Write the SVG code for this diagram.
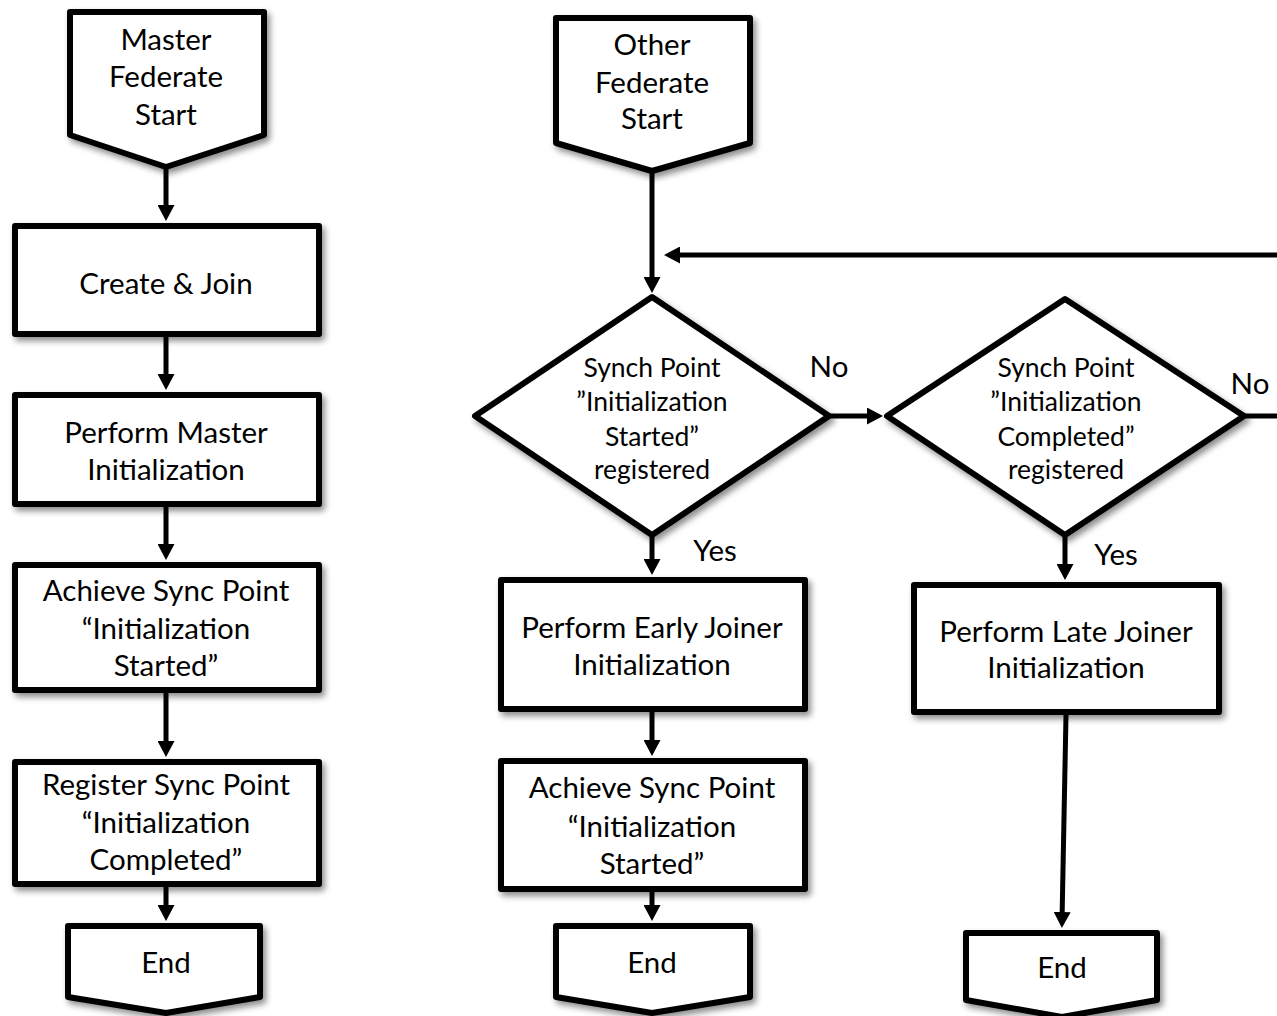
<svg xmlns="http://www.w3.org/2000/svg" width="1277" height="1016" viewBox="0 0 1277 1016">
  <defs>
    <filter id="shadow" x="-10%" y="-10%" width="130%" height="130%">
      <feDropShadow dx="3" dy="4" stdDeviation="3" flood-color="#000" flood-opacity="0.45"/>
    </filter>
    <marker id="arrow" markerUnits="userSpaceOnUse" markerWidth="17" markerHeight="17" refX="9" refY="8.5" orient="auto">
      <path d="M0,0 L16,8.5 L0,17 Z" fill="#000"/>
    </marker>
  </defs>
  <style>
    .shape { fill: #fff; stroke: #000; stroke-width: 6; stroke-linejoin: round; filter: url(#shadow); }
    .edge { fill: none; stroke: #000; stroke-width: 5; }
    .arr { marker-end: url(#arrow); }
    text { font-family: Lato, "Liberation Sans", sans-serif; font-size: 29.5px; fill: #000; text-anchor: middle; }
    .small { font-size: 26.5px; }
  </style>

  <rect width="1277" height="1016" fill="#fff"/>

  <!-- connectors -->
  <g id="connectors">
    <line class="edge arr" x1="166" y1="168" x2="166" y2="214"/>
    <line class="edge arr" x1="166" y1="337" x2="166" y2="383"/>
    <line class="edge arr" x1="166" y1="507" x2="166" y2="553"/>
    <line class="edge arr" x1="166" y1="693" x2="166" y2="750"/>
    <line class="edge arr" x1="166" y1="887" x2="166" y2="914"/>

    <line class="edge arr" x1="652" y1="171" x2="652" y2="286"/>
    <line class="edge arr" x1="1277" y1="255" x2="671" y2="255"/>
    <line class="edge arr" x1="829" y1="416" x2="876" y2="416"/>
    <line class="edge arr" x1="652" y1="535" x2="652" y2="568"/>
    <line class="edge arr" x1="652" y1="712" x2="652" y2="749"/>
    <line class="edge arr" x1="652" y1="892" x2="652" y2="914"/>

    <line class="edge" x1="1244" y1="416" x2="1277" y2="416"/>
    <line class="edge arr" x1="1065" y1="535" x2="1065" y2="573"/>
    <line class="edge arr" x1="1066" y1="715" x2="1062" y2="921"/>
  </g>

  <!-- master federate column -->
  <g id="master-start">
    <path class="shape" d="M70,12 H264 V135 L166,167 L70,135 Z"/>
    <text x="166" y="50">Master</text>
    <text x="166" y="87">Federate</text>
    <text x="166" y="125">Start</text>
  </g>
  <g id="create-join">
    <rect class="shape" x="15" y="226" width="304" height="108"/>
    <text x="166" y="294">Create &amp; Join</text>
  </g>
  <g id="master-init">
    <rect class="shape" x="15" y="395" width="304" height="109"/>
    <text x="166" y="443">Perform Master</text>
    <text x="166" y="480">Initialization</text>
  </g>
  <g id="master-achieve">
    <rect class="shape" x="15" y="565" width="304" height="125"/>
    <text x="166" y="601">Achieve Sync Point</text>
    <text x="166" y="639">“Initialization</text>
    <text x="166" y="676">Started”</text>
  </g>
  <g id="master-register">
    <rect class="shape" x="15" y="762" width="304" height="122"/>
    <text x="166" y="795">Register Sync Point</text>
    <text x="166" y="833">“Initialization</text>
    <text x="166" y="870">Completed”</text>
  </g>
  <g id="master-end">
    <path class="shape" d="M68,926 H260 V997 L166,1013 L68,997 Z"/>
    <text x="166" y="973">End</text>
  </g>

  <!-- other federate column -->
  <g id="other-start">
    <path class="shape" d="M556,18 H750 V143 L652,171 L556,143 Z"/>
    <text x="652" y="55">Other</text>
    <text x="652" y="93">Federate</text>
    <text x="652" y="129">Start</text>
  </g>
  <g id="check-started">
    <path class="shape" d="M475,416 L652,297 L829,416 L652,535 Z"/>
    <text class="small" x="652" y="377">Synch Point</text>
    <text class="small" x="652" y="411">”Initialization</text>
    <text class="small" x="652" y="446">Started”</text>
    <text class="small" x="652" y="479">registered</text>
  </g>
  <g id="early-init">
    <rect class="shape" x="501" y="580" width="304" height="129"/>
    <text x="652" y="638">Perform Early Joiner</text>
    <text x="652" y="675">Initialization</text>
  </g>
  <g id="other-achieve">
    <rect class="shape" x="501" y="761" width="304" height="128"/>
    <text x="652" y="798">Achieve Sync Point</text>
    <text x="652" y="837">“Initialization</text>
    <text x="652" y="874">Started”</text>
  </g>
  <g id="other-end">
    <path class="shape" d="M556,926 H750 V997 L652,1013 L556,997 Z"/>
    <text x="652" y="973">End</text>
  </g>

  <!-- late joiner branch -->
  <g id="check-completed">
    <path class="shape" d="M887,416 L1065,299 L1244,416 L1065,535 Z"/>
    <text class="small" x="1066" y="377">Synch Point</text>
    <text class="small" x="1066" y="411">”Initialization</text>
    <text class="small" x="1066" y="446">Completed”</text>
    <text class="small" x="1066" y="479">registered</text>
  </g>
  <g id="late-init">
    <rect class="shape" x="914" y="585" width="305" height="127"/>
    <text x="1066" y="642">Perform Late Joiner</text>
    <text x="1066" y="678">Initialization</text>
  </g>
  <g id="late-end">
    <path class="shape" d="M966,933 H1157 V1000 L1062,1017 L966,1000 Z"/>
    <text x="1062" y="978">End</text>
  </g>

  <!-- branch labels -->
  <g id="labels">
    <text x="829" y="377">No</text>
    <text x="1250" y="394">No</text>
    <text x="715" y="561">Yes</text>
    <text x="1116" y="565">Yes</text>
  </g>
</svg>
